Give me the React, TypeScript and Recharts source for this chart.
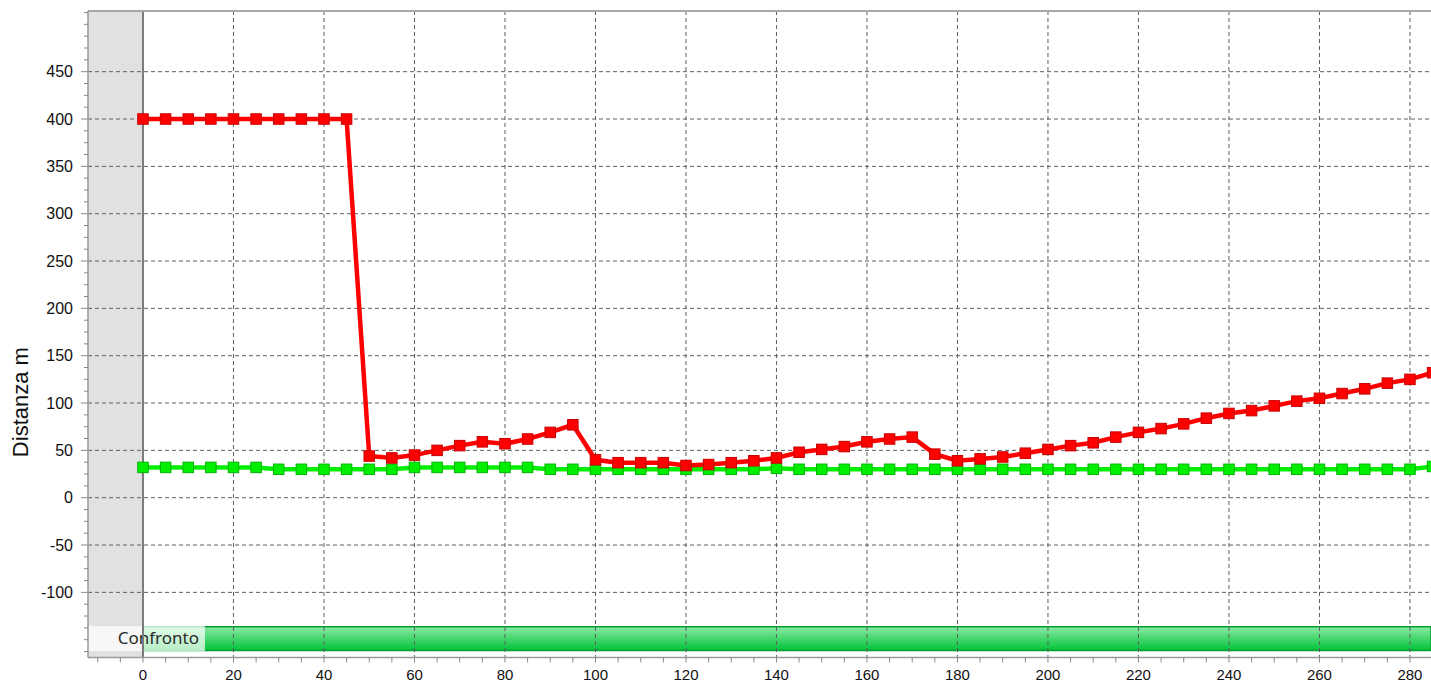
import { ComposedChart, Line, XAxis, YAxis, CartesianGrid, ReferenceArea, ReferenceLine } from 'recharts';

// progressive distance (x) of each sample
const distances = [
  0, 5, 10, 15, 20, 25, 30, 35, 40, 45, 50, 55, 60, 65, 70, 75, 80, 85, 90, 95,
  100, 105, 110, 115, 120, 125, 130, 135, 140, 145, 150, 155, 160, 165, 170, 175, 180, 185, 190, 195,
  200, 205, 210, 215, 220, 225, 230, 235, 240, 245, 250, 255, 260, 265, 270, 275, 280, 285,
];

// red series (Distanza m)
const redSeries = [
  400, 400, 400, 400, 400, 400, 400, 400, 400, 400, 44, 42, 45, 50, 55, 59, 57, 62, 69, 77,
  40, 37, 37, 37, 34, 35, 37, 39, 42, 48, 51, 54, 59, 62, 64, 46, 39, 41, 43, 47,
  51, 55, 58, 64, 69, 73, 78, 84, 89, 92, 97, 102, 105, 110, 115, 121, 125, 132,
];

// green series
const greenSeries = [
  32, 32, 32, 32, 32, 32, 30, 30, 30, 30, 30, 30, 32, 32, 32, 32, 32, 32, 30, 30,
  30, 30, 30, 30, 30, 30, 30, 30, 31, 30, 30, 30, 30, 30, 30, 30, 30, 30, 30, 30,
  30, 30, 30, 30, 30, 30, 30, 30, 30, 30, 30, 30, 30, 30, 30, 30, 30, 33,
];

const xTickLabels = [0, 20, 40, 60, 80, 100, 120, 140, 160, 180, 200, 220, 240, 260, 280];
const yTickLabels = [-100, -50, 0, 50, 100, 150, 200, 250, 300, 350, 400, 450];

const X_MIN = -12.15;
const X_MAX = 284.65;
const Y_MIN = -168.8;
const Y_MAX = 514.1;

// minor ticks: 4 steps per major interval
const xMinorTicks: number[] = [];
for (let v = -10; v <= X_MAX; v += 5) xMinorTicks.push(v);
const yMinorTicks: number[] = [];
for (let v = -162.5; v <= Y_MAX; v += 12.5) yMinorTicks.push(v);

const data = distances.map((x, i) => ({ x, red: redSeries[i], green: greenSeries[i] }));

const FONT = '"Liberation Sans", Arial, sans-serif';

const YTick = (props: any) => {
  const { x, y, payload } = props;
  const major = yTickLabels.includes(payload.value);
  return (
    <g>
      <line x1={x - (major ? 7 : 4)} x2={x} y1={y} y2={y} stroke="#8a8a8a" strokeWidth={1} />
      {major && (
        <text x={x - 15} y={y} dy="0.36em" textAnchor="end" fontSize={16} fontFamily={FONT} fill="#111">
          {payload.value}
        </text>
      )}
    </g>
  );
};

const XTick = (props: any) => {
  const { x, y, payload } = props;
  const major = xTickLabels.includes(payload.value);
  return (
    <g>
      <line x1={x} x2={x} y1={y} y2={y + 5} stroke="#8a8a8a" strokeWidth={1} />
      {major && (
        <text x={x} y={y + 22.5} textAnchor="middle" fontSize={15} fontFamily={FONT} fill="#111">
          {payload.value}
        </text>
      )}
    </g>
  );
};

const squareDot = (fill: string, stroke: string) => (props: any) => {
  const { cx, cy, index } = props;
  if (cx == null || cy == null) return <g key={index} />;
  return <rect key={index} x={cx - 5.25} y={cy - 5.25} width={10.5} height={10.5} fill={fill} stroke={stroke} strokeWidth={1} />;
};

const AxisTitle = (props: any) => {
  const { viewBox } = props;
  const cx = 20;
  const cy = viewBox.y + viewBox.height * 0.605;
  return (
    <text x={cx} y={cy} transform={`rotate(-90 ${cx} ${cy})`} textAnchor="middle" dy="0.35em" fontSize={22} fontFamily={FONT} fill="#111">
      Distanza m
    </text>
  );
};

const ConfrontoLabel = (props: any) => {
  const { viewBox } = props;
  return (
    <text
      x={viewBox.x + viewBox.width - 6}
      y={viewBox.y + viewBox.height / 2}
      dy="0.35em"
      textAnchor="end"
      fontSize={17}
      fontFamily='"Noto Sans", "Open Sans", sans-serif'
      fill="#2a2a2a"
    >
      Confronto
    </text>
  );
};

export default function App() {
  return (
    <div style={{ width: 1431, height: 684, background: '#fff' }}>
      <style>{`body{margin:0}`}</style>
      <ComposedChart width={1431} height={684} data={data} margin={{ top: 11, right: 0, bottom: 0, left: 0 }}>
        <defs>
          <linearGradient id="confrontoFill" x1="0" y1="0" x2="0" y2="1">
            <stop offset="0%" stopColor="#8ceaa4" />
            <stop offset="45%" stopColor="#4cd874" />
            <stop offset="100%" stopColor="#00c238" />
          </linearGradient>
        </defs>
        <ReferenceArea x1={X_MIN} x2={0} y1={Y_MIN} y2={Y_MAX} fill="#e1e1e1" fillOpacity={1} stroke="none" ifOverflow="hidden" zIndex={-200} />
        <ReferenceArea x1={0} x2={X_MAX} y1={-161.5} y2={-136.2} fill="url(#confrontoFill)" fillOpacity={1} stroke="#00a030" strokeWidth={1.5} ifOverflow="hidden" zIndex={-200} />
        <CartesianGrid
          horizontalValues={yTickLabels}
          verticalValues={xTickLabels.filter((v) => v !== 0)}
          stroke="#5e5e5e"
          strokeDasharray="4 3"
        />
        <ReferenceArea x1={X_MIN} x2={13.7} y1={-162} y2={-135.5} fill="#ffffff" fillOpacity={0.72} stroke="none" ifOverflow="hidden" label={<ConfrontoLabel />} />
        <ReferenceLine x={0} stroke="#7a7a7a" strokeWidth={2} />
        <ReferenceLine y={Y_MAX} stroke="#a8a8a8" strokeWidth={2} />
        <XAxis
          type="number"
          dataKey="x"
          domain={[X_MIN, X_MAX]}
          allowDataOverflow
          ticks={xMinorTicks}
          interval={0}
          tick={<XTick />}
          tickLine={false}
          tickSize={0}
          tickMargin={0}
          height={26.5}
          axisLine={{ stroke: '#9a9a9a', strokeWidth: 1.5 }}
        />
        <YAxis
          type="number"
          domain={[Y_MIN, Y_MAX]}
          allowDataOverflow
          ticks={yMinorTicks}
          interval={0}
          tick={<YTick />}
          tickLine={false}
          tickSize={0}
          tickMargin={0}
          width={88}
          axisLine={{ stroke: '#9a9a9a', strokeWidth: 1.5 }}
          label={<AxisTitle />}
        />
        <Line
          type="linear"
          dataKey="green"
          stroke="#00ef00"
          strokeWidth={4.5}
          dot={squareDot('#00ee00', '#00b400')}
          activeDot={false}
          isAnimationActive={false}
        />
        <Line
          type="linear"
          dataKey="red"
          stroke="#ff0000"
          strokeWidth={4.5}
          dot={squareDot('#ff0000', '#c80000')}
          activeDot={false}
          isAnimationActive={false}
        />
      </ComposedChart>
    </div>
  );
}
